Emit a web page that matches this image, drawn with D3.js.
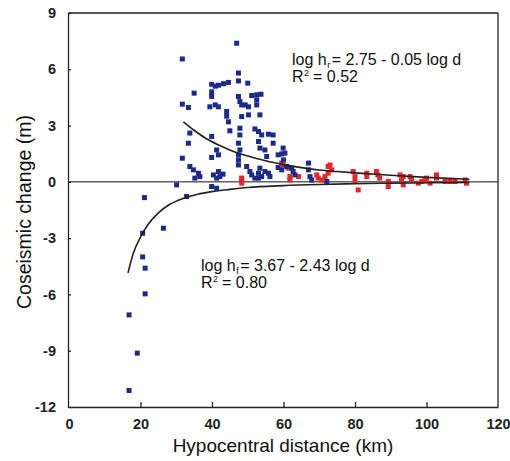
<!DOCTYPE html>
<html><head><meta charset="utf-8">
<script src="https://cdn.jsdelivr.net/npm/d3@7"></script>
<style>body{margin:0;background:#fff}svg{display:block}</style>
</head><body>
<script>
const xTicks = [0,20,40,60,80,100,120];
const yTicks = [-12,-9,-6,-3,0,3,6,9];
const bluePoints = [
[31.7,6.55],[35,4.73],[31.7,4.14],[33.4,3.96],
[39.9,5.2],[40.9,5.1],[41.8,5.15],[43.2,5.23],[44.6,5.3],
[39.9,4.8],[39.9,4.55],[39.4,4.0],[40.9,4.1],[41.8,4.0],
[44.1,3.75],[44.1,3.5],[44.6,3.2],
[33.8,2.6],[33.4,2.06],[39.9,2.42],[41.3,1.7],[31.7,1.26],[39.9,1.3],[41.8,1.44],
[33.8,0.82],[34.8,0.64],[36.2,0.46],[36.6,0.28],[35.2,0.2],
[40.4,0.37],[41.3,0.2],[42.2,0.28],[43.1,0.41],[41.8,0.55],
[30.1,-0.16],[41.3,-0.34],[32.9,-0.78],[39.9,-0.25],
[46.9,7.39],[47.4,5.8],[47.4,5.38],[50,5.26],
[47.4,4.55],[47.8,4.28],[48.3,4.1],
[51.1,4.6],[52.5,4.64],[53.7,4.67],
[49.3,4.1],[50.2,4.0],[52.5,4.37],[52.5,4.1],
[48.3,3.48],[50.2,3.57],[53.4,3.57],
[45,2.72],[47.8,2.86],[47.8,2.5],
[52.0,2.82],[53,2.68],[53.9,2.5],[55.8,2.54],
[57.1,2.5],[57.1,2.06],
[47.4,2.06],[47.8,1.7],[47.4,1.44],
[53,2.15],[53.4,1.8],[54.8,1.7],[55.3,1.35],
[58.5,1.44],[60,1.17],[47.4,1.17],[47.4,0.9],
[49.7,0.82],[50.6,0.55],[51.1,0.37],[52,0.2],
[53,0.46],[53.4,0.73],[53,0.2],[53.9,0.28],
[54.8,0.55],[55.8,0.46],[56.2,0.28],
[58.5,0.76],[59.5,0.64],[60.9,0.82],
[59.5,1.49],[60.4,1.53],[59.9,1.8],[62.3,0.73],[62.7,0.55],[63.2,0.37],
[67,1.0],[67,0.64],[67.4,0.28],[67.9,0.1],[72.1,0.02],
[21.1,-0.84],[20.6,-2.74],[26.4,-2.47],[20.6,-4.0],[21.3,-4.6],[21.3,-5.97],
[16.8,-7.09],[19.1,-9.13],[16.8,-11.12]
];
const redPoints = [
[48.3,0.2],[48.3,0.05],[48.3,-0.07],
[59.5,1.0],[61.3,0.73],[59.9,0.9],[61.8,0.28],[61.8,0.1],[64.2,0.28],
[69.3,0.37],[69.7,0.2],[70.7,0.1],
[72.5,0.82],[73,0.9],[73.5,0.64],[72.5,0.46],[71.6,0.28],
[79.5,0.55],[80,0.28],[80,0.02],[80.9,-0.43],
[83.3,0.46],[83.3,0.28],
[86,0.55],[86.4,0.37],[86.9,0.2],
[89.3,0.02],[89.3,-0.25],
[92.6,0.37],[93.5,0.28],[93,0.1],[93.5,-0.16],
[95.4,0.28],[95.8,0.14],
[97.7,-0.07],[98.7,0.02],[99.6,0.07],[100,0.2],[101,-0.07],
[102.8,0.37],[102.8,0.2],
[105.2,0.02],[106.6,0.02],[108,0.02],
[110.8,0.1],[111.2,-0.07]
];
const upperFit = [[32,3.2],[35,2.75],[38,2.35],[42,1.95],[46,1.62],[50,1.38],[55,1.12],[60,0.92],[65,0.76],[70,0.63],[75,0.55],[80,0.48],[90,0.35],[100,0.24],[112,0.14]];
const lowerFit = [[16.5,-4.85],[18,-3.8],[20,-2.95],[22,-2.3],[25,-1.65],[28,-1.22],[32,-0.88],[36,-0.66],[40,-0.52],[45,-0.4],[50,-0.3],[60,-0.2],[70,-0.14],[80,-0.1],[90,-0.07],[100,-0.05],[112,-0.03]];

const W=510,H=461;
const svg=d3.select("body").append("svg").attr("width",W).attr("height",H);
const x=d3.scaleLinear().domain([0,120]).range([69,498]);
const y=d3.scaleLinear().domain([-12,9]).range([407,13]);
const font="Liberation Sans, Arial, Helvetica, sans-serif";
const fmt=d=>String(d);

svg.append("line").attr("x1",x(0)).attr("x2",x(120)).attr("y1",y(0)).attr("y2",y(0))
  .attr("stroke","#111").attr("stroke-width",1);

const xAxis=d3.axisBottom(x).tickValues(xTicks).tickFormat(fmt).tickSizeInner(-5).tickSizeOuter(0).tickPadding(12);
const gx=svg.append("g").attr("transform",`translate(0,${y(-12)})`).call(xAxis);
gx.select(".domain").attr("stroke","#222").attr("stroke-width",1.3);
gx.selectAll(".tick line").attr("stroke","#222").attr("stroke-width",1.3);
gx.selectAll("text").attr("font-family",font).attr("font-size",14.5).attr("font-weight","bold").attr("fill","#222");
gx.selectAll(".tick").filter(d=>d===0||d===120).select("line").remove();

const yAxis=d3.axisLeft(y).tickValues(yTicks).tickFormat(fmt).tickSizeInner(-3).tickSizeOuter(0).tickPadding(12);
const gy=svg.append("g").attr("transform",`translate(${x(0)-1},0)`).call(yAxis);
gy.select(".domain").attr("stroke","#222").attr("stroke-width",1.3);
gy.selectAll(".tick line").attr("stroke","#222").attr("stroke-width",1.3);
gy.selectAll("text").attr("font-family",font).attr("font-size",14.5).attr("font-weight","bold").attr("fill","#222");

svg.append("line").attr("x1",x(0)-1).attr("x2",x(120)).attr("y1",y(9)).attr("y2",y(9)).attr("stroke","#222").attr("stroke-width",1.3);
svg.append("line").attr("x1",x(120)).attr("x2",x(120)).attr("y1",y(9)).attr("y2",y(-12)).attr("stroke","#222").attr("stroke-width",1.3);

const s=5;
svg.append("g").selectAll("rect").data(redPoints).join("rect")
  .attr("x",d=>x(d[0])-s/2).attr("y",d=>y(d[1])-s/2).attr("width",s).attr("height",s).attr("fill","#e8262a");
svg.append("g").selectAll("rect").data(bluePoints).join("rect")
  .attr("x",d=>x(d[0])-s/2).attr("y",d=>y(d[1])-s/2).attr("width",s).attr("height",s).attr("fill","#1c2a8c");

const line=d3.line().x(d=>x(d[0])).y(d=>y(d[1])).curve(d3.curveMonotoneX);
[upperFit,lowerFit].forEach(f=>svg.append("path").attr("d",line(f)).attr("fill","none").attr("stroke","#222").attr("stroke-width",1.6));

function piece(px,py,str,size){
  const t=svg.append("text").attr("x",px).attr("y",py).attr("font-family",font).attr("font-size",size).attr("fill","#111").text(str);
  return px+t.node().getComputedTextLength();
}
function eq(px,py,sub,rest,r2){
  let cx=piece(px,py,"log h",16);
  cx=piece(cx+0.5,py+3,sub,9);
  piece(cx+1.5,py,"= "+rest,16);
  let rx=piece(px,py+17,"R",16);
  rx=piece(rx+0.5,py+11,"2",9);
  piece(rx+4,py+17,"= "+r2,16);
}
eq(292,65,"r","2.75 - 0.05 log d","0.52");
eq(201,271,"f","3.67 - 2.43 log d","0.80");

svg.append("text").attr("x",283).attr("y",452).attr("text-anchor","middle")
  .attr("font-family",font).attr("font-size",19).attr("fill","#111").text("Hypocentral distance (km)");
svg.append("text").attr("transform","translate(31,212) rotate(-90)").attr("text-anchor","middle")
  .attr("font-family",font).attr("font-size",19.5).attr("fill","#111").text("Coseismic change (m)");
</script>
</body></html>
